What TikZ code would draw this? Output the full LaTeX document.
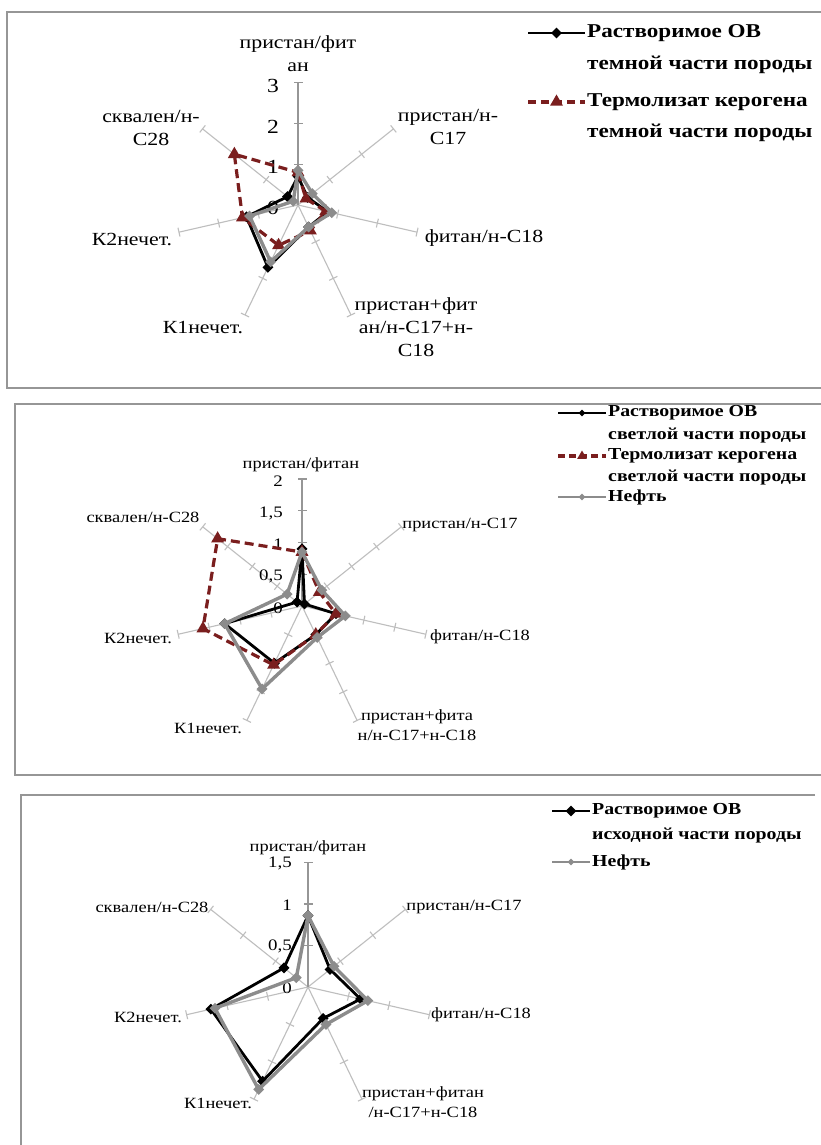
\documentclass[tikz,border=0pt]{standalone}
\usepackage{fontspec}
\setmainfont[FakeStretch=1.18]{Liberation Serif}
\usetikzlibrary{shapes.geometric,calc}
\definecolor{sertwo}{RGB}{122,30,30}
\definecolor{serthree}{RGB}{140,140,140}
\definecolor{axc}{RGB}{190,190,190}
\definecolor{axtop}{RGB}{150,150,150}
\definecolor{frc}{RGB}{150,150,150}
\tikzset{
 axisline/.style={draw=axc, line width=1.1pt},
 topaxis/.style={draw=axtop, line width=1.1pt},
 frameline/.style={draw=frc, line width=1.3pt},
 sone/.style={draw=black, line width=2.8pt, line join=round},
 stwo/.style={draw=sertwo, line width=3.2pt, dash pattern=on 9pt off 5pt, line join=round},
 sthree/.style={draw=serthree, line width=3.4pt, line join=round},
 mone/.style={diamond, fill=black, inner sep=0pt, minimum size=11pt},
 mtwo/.style={regular polygon, regular polygon sides=3, fill=sertwo, inner sep=0pt, minimum size=15pt},
 mthree/.style={diamond, fill=serthree, inner sep=0pt, minimum size=11pt},
 labA/.style={font=\fontsize{18.5}{23}\selectfont, align=center, inner sep=0pt},
 labB/.style={font=\fontsize{15.6}{20}\selectfont, align=center, inner sep=0pt},
 numA/.style={font=\fontsize{20}{22}\selectfont, inner sep=0pt, anchor=east},
 numB/.style={font=\fontsize{16}{18}\selectfont, inner sep=0pt, anchor=east},
 legA/.style={font=\bfseries\fontsize{19.6}{22}\selectfont, inner sep=0pt, anchor=west},
 legB/.style={font=\bfseries\fontsize{16.8}{19}\selectfont, inner sep=0pt, anchor=west},
}
% axes: cx, cy, tick spacing, number of ticks
\newcommand\radaxes[4]{%
 \foreach \k in {0,...,6}{%
   \pgfmathsetmacro\ang{360/7*\k-90}%
   \draw[axisline] (#1,#2) -- ($(#1,#2)+(\ang:{#3*#4})$);
   \foreach \j in {1,...,#4}{%
     \draw[axisline] ($(#1,#2)+(\ang:{#3*\j})+(\ang+90:4.5)$) -- ($(#1,#2)+(\ang:{#3*\j})+(\ang-90:4.5)$);
   }%
 }%
 \draw[topaxis] (#1,#2) -- ($(#1,#2)+(-90:{#3*#4})$);
 \foreach \j in {1,...,#4}{%
   \draw[topaxis] ($(#1,#2)+(-90:{#3*\j})+(0:4.5)$) -- ($(#1,#2)+(-90:{#3*\j})+(180:4.5)$);
 }%
}
% series points: prefix, cx, cy, unit, values
\newcommand\mkser[5]{%
 \foreach \v [count=\i from 0] in {#5}{%
  \pgfmathsetmacro\ang{360/7*\i-90}%
  \coordinate (#1\i) at ($(#2,#3)+(\ang:{\v*#4})$);}%
}
\newcommand\drawser[3]{%
 \draw[#2] (#10)--(#11)--(#12)--(#13)--(#14)--(#15)--(#16)--cycle;
 \foreach \i in {0,...,6}{\node[#3] (#1m\i) at (#1\i) {};}%
}
\begin{document}
\begin{tikzpicture}[x=1pt,y=-1pt]
\useasboundingbox[fill=white] (0,0) rectangle (821,1145);
% ---------- frames ----------
\draw[frameline] (821,12) -- (7,12) -- (7,388) -- (821,388);
\draw[frameline] (821,404) -- (15,404) -- (15,775) -- (821,775);
\draw[frameline] (815,795) -- (21,795) -- (21,1145);

% ================= CHART 1 =================
\radaxes{298}{205}{40.7}{3}
\node[numA] (a3) at (279,86) {3};
\node[numA] (a2) at (279,127) {2};
\node[numA] (a1) at (279,167) {1};
\node[numA] (a0) at (279,208) {0};
\node[labA] (ca0) at (298,54) {пристан/фит\\ан};
\node[labA] (ca1) at (448,127) {пристан/н-\\С17};
\node[labA] (ca2) at (484,238) {фитан/н-С18};
\node[labA] (ca3) at (416,327) {пристан+фит\\ан/н-С17+н-\\С18};
\node[labA] (ca4) at (203,328) {К1нечет.};
\node[labA] (ca5) at (132,240) {К2нечет.};
\node[labA] (ca6) at (151,128) {сквален/н-\\С28};
\mkser{pa}{298}{205}{40.7}{0.7,0.3,0.75,0.6,1.7,1.3,0.33}
\mkser{qa}{298}{205}{40.7}{0.8,0.25,0.7,0.7,1.1,1.4,2.0}
\mkser{ra}{298}{205}{40.7}{0.85,0.45,0.85,0.6,1.55,1.22,0.15}
\drawser{pa}{sone}{mone}
\drawser{qa}{stwo}{mtwo}
\drawser{ra}{sthree}{mthree}
% legend 1
\coordinate (la1) at (528,33); \coordinate (lb1) at (585,33);
\draw[sone] (la1) -- (lb1);
\node[mone] (lm1) at ($(la1)!0.5!(lb1)$) {};
\node[legA] (lt1) at (587,33) {Растворимое ОВ};
\node[legA] (lt1b) at (587,65) {темной части породы};
\coordinate (la2) at (528,102); \coordinate (lb2) at (585,102);
\draw[stwo, dash pattern=on 8pt off 5pt] (la2) -- (lb2);
\node[mtwo] (lm2) at ($(la2)!0.5!(lb2)$) {};
\node[legA] (lt2) at (587,102) {Термолизат керогена};
\node[legA] (lt2b) at (587,133) {темной части породы};

% ================= CHART 2 =================
\radaxes{302}{606}{31.75}{4}
\node[numB] (b4) at (283,481) {2};
\node[numB] (b3) at (283,513) {1,5};
\node[numB] (b2) at (283,544) {1};
\node[numB] (b1) at (283,576) {0,5};
\node[numB] (b0) at (283,608) {0};
\node[labB] (cb0) at (301,465) {пристан/фитан};
\node[labB] (cb1) at (460,525) {пристан/н-С17};
\node[labB] (cb2) at (480,637) {фитан/н-С18};
\node[labB] (cb3) at (417,725) {пристан+фита\\н/н-С17+н-С18};
\node[labB] (cb4) at (208,728) {К1нечет.};
\node[labB] (cb5) at (138,638) {К2нечет.};
\node[labB] (cb6) at (143,517) {сквален/н-С28};
\mkser{pb}{302}{606}{63.5}{0.9,0.05,0.55,0.5,1.0,1.25,0.1}
\mkser{qb}{302}{606}{63.5}{0.85,0.35,0.55,0.5,1.03,1.6,1.7}
\mkser{rb}{302}{606}{63.5}{0.85,0.4,0.7,0.55,1.45,1.25,0.3}
\drawser{pb}{sone}{mone}
\drawser{qb}{stwo}{mtwo}
\drawser{rb}{sthree}{mthree}
% legend 2
\coordinate (la3) at (558,413); \coordinate (lb3) at (606,413);
\draw[sone, line width=2pt] (la3) -- (lb3);
\node[mone, minimum size=7pt] (lm3) at ($(la3)!0.5!(lb3)$) {};
\node[legB] (lt3) at (608,413) {Растворимое ОВ};
\node[legB] (lt3b) at (608,436) {светлой части породы};
\coordinate (la4) at (558,456); \coordinate (lb4) at (606,456);
\draw[stwo, dash pattern=on 7pt off 4pt] (la4) -- (lb4);
\node[mtwo, minimum size=11pt] (lm4) at ($(la4)!0.5!(lb4)$) {};
\node[legB] (lt4) at (608,456) {Термолизат керогена};
\node[legB] (lt4b) at (608,478) {светлой части породы};
\coordinate (la5) at (558,497); \coordinate (lb5) at (606,497);
\draw[sthree, line width=2pt] (la5) -- (lb5);
\node[mthree, minimum size=7pt] (lm5) at ($(la5)!0.5!(lb5)$) {};
\node[legB] (lt5) at (608,497) {Нефть};

% ================= CHART 3 =================
\radaxes{308}{987}{41.5}{3}
\node[numB] (c3) at (292,863) {1,5};
\node[numB] (c2) at (292,905) {1};
\node[numB] (c1) at (292,946) {0,5};
\node[numB] (c0) at (292,988) {0};
\node[labB] (cc0) at (308,848) {пристан/фитан};
\node[labB] (cc1) at (464,907) {пристан/н-С17};
\node[labB] (cc2) at (481,1015) {фитан/н-С18};
\node[labB] (cc3) at (423,1102) {пристан+фитан\\/н-С17+н-С18};
\node[labB] (cc4) at (218,1103) {К1нечет.};
\node[labB] (cc5) at (148,1017) {К2нечет.};
\node[labB] (cc6) at (152,907) {сквален/н-С28};
\mkser{pc}{308}{987}{83}{0.86,0.34,0.65,0.42,1.26,1.2,0.37}
\mkser{rc}{308}{987}{83}{0.86,0.4,0.74,0.5,1.37,1.15,0.18}
\drawser{pc}{sone}{mone}
\drawser{rc}{sthree}{mthree}
% legend 3
\coordinate (la6) at (552,811); \coordinate (lb6) at (590,811);
\draw[sone] (la6) -- (lb6);
\node[mone] (lm6) at ($(la6)!0.5!(lb6)$) {};
\node[legB] (lt6) at (592,811) {Растворимое ОВ};
\node[legB] (lt6b) at (592,835) {исходной части породы};
\coordinate (la7) at (552,862); \coordinate (lb7) at (590,862);
\draw[sthree, line width=2pt] (la7) -- (lb7);
\node[mthree, minimum size=7pt] (lm7) at ($(la7)!0.5!(lb7)$) {};
\node[legB] (lt7) at (592,862) {Нефть};
\end{tikzpicture}
\end{document}
